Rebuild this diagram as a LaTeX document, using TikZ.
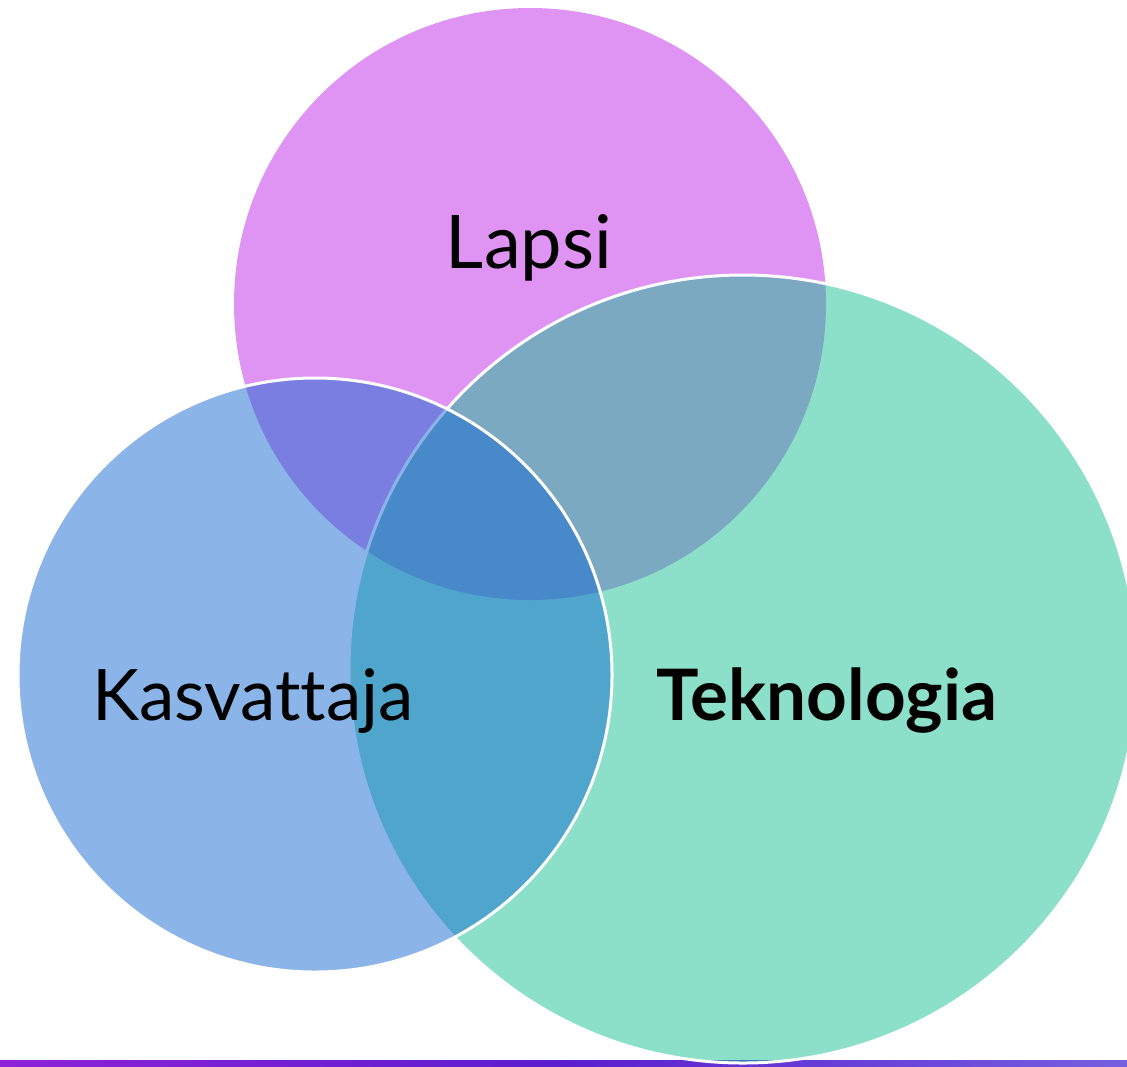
\documentclass[tikz,border=0pt]{standalone}
\usepackage{fontspec}
\setmainfont{Lato}[Ligatures=NoCommon]
\usetikzlibrary{calc}

\definecolor{lapsicol}{RGB}{191,39,229}
\definecolor{kasvcol}{RGB}{23,107,209}
\definecolor{teknocol}{RGB}{25,193,147}
\definecolor{barleft}{RGB}{142,34,216}
\definecolor{barmid}{RGB}{91,30,206}
\definecolor{barright}{RGB}{117,96,224}

\tikzset{
    circ/.style={fill=#1,fill opacity=0.5,draw=white,line width=1.5pt},
    label/.style={anchor=base,inner sep=0pt,text=black}
}

\begin{document}
\begin{tikzpicture}[x=0.5pt,y=-0.5pt]
        \useasboundingbox (0,0) rectangle (1127,1066);
        \clip (0,0) rectangle (1127,1066);
        \shade[left color=barleft,right color=barright,middle color=barmid] (0,1060) rectangle (1127,1066);
        \fill[lapsicol,fill opacity=0.5] (530,304) circle[radius=296];
        \draw[circ=teknocol] (743,669) circle[radius=394];
        \draw[circ=kasvcol] (315,675) circle[radius=297];
        \node[label,font=\fontsize{37}{40}\selectfont] (lapsi) at (529,268) {Lapsi};
        \node[label,font=\fontsize{35.5}{38}\selectfont] (kasvattaja) at (253,720) {Kasvattaja};
        \node[label,font=\fontsize{35.5}{38}\selectfont\bfseries] (teknologia) at (827,720) {Teknologia};
    \end{tikzpicture}
\end{document}
